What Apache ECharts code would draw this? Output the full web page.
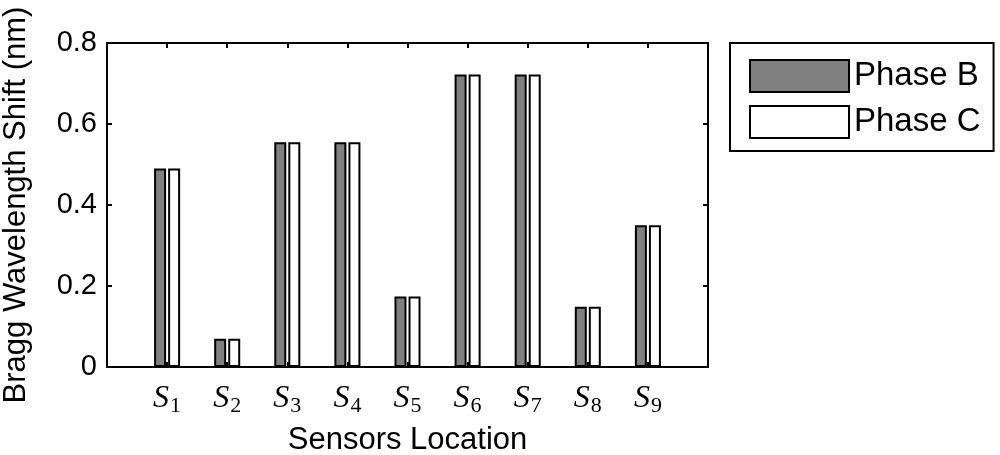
<!DOCTYPE html>
<html>
<head>
<meta charset="utf-8">
<script src="https://cdn.jsdelivr.net/npm/echarts@6/dist/echarts.min.js"></script>
<style>html,body{margin:0;padding:0;background:#fff}#c{width:1000px;height:455px}</style>
</head>
<body>
<div id="c"></div>
<script>
const sensors = ['1','2','3','4','5','6','7','8','9'];
const phaseB = [0.49, 0.07, 0.555, 0.555, 0.174, 0.722, 0.722, 0.149, 0.35];
const phaseC = [0.49, 0.07, 0.555, 0.555, 0.174, 0.722, 0.722, 0.149, 0.35];
const yTicks = [0, 0.2, 0.4, 0.6, 0.8];

const chart = echarts.init(document.getElementById('c'));
const font = 'Liberation Sans, Arial, sans-serif';
const toPts = arr => arr.map((v, i) => [i + 1, v]);
const tickStyle = {show: true, inside: true, length: 5, lineStyle: {color: '#000', width: 2}};
const lineStyle = {show: true, onZero: false, lineStyle: {color: '#000', width: 2}};
chart.setOption({
  animation: false,
  backgroundColor: '#fff',
  grid: {left: 107, right: 292, top: 43, bottom: 88, containLabel: false, outerBoundsMode: 'none'},
  legend: {
    left: 730, top: 43, orient: 'vertical',
    padding: [16, 13, 12, 19],
    borderColor: '#000', borderWidth: 2,
    itemWidth: 99, itemHeight: 32, itemGap: 12,
    icon: 'rect',
    textStyle: {fontFamily: font, fontSize: 33, color: '#000', padding: [0, 0, 0, 0]},
    data: ['Phase B', 'Phase C']
  },
  xAxis: [{
    type: 'value', min: 0, max: 10, interval: 1, position: 'bottom',
    name: 'Sensors Location', nameLocation: 'middle', nameGap: 58,
    nameTextStyle: {fontFamily: font, fontSize: 31, color: '#000'},
    axisLine: lineStyle,
    axisTick: tickStyle,
    splitLine: {show: false},
    axisLabel: {
      margin: 14,
      formatter: v => (v >= 1 && v <= 9) ? '{s|S}{sub|' + sensors[v - 1] + '}' : '',
      rich: {
        s: {fontFamily: 'Liberation Serif, serif', fontStyle: 'italic', fontSize: 32, color: '#000'},
        sub: {fontFamily: 'Liberation Serif, serif', fontSize: 22, color: '#000', padding: [14, 0, 0, 1]}
      }
    }
  }, {
    type: 'value', min: 0, max: 10, interval: 1, position: 'top',
    axisLine: lineStyle,
    axisTick: tickStyle,
    axisLabel: {show: false}, splitLine: {show: false}
  }],
  yAxis: [{
    type: 'value', min: 0, max: 0.8, interval: 0.2, position: 'left',
    name: 'Bragg Wavelength Shift (nm)', nameLocation: 'middle', nameGap: 75,
    nameTextStyle: {fontFamily: font, fontSize: 31, color: '#000'},
    axisLine: lineStyle,
    axisTick: tickStyle,
    splitLine: {show: false},
    axisLabel: {fontFamily: font, fontSize: 29, color: '#000', margin: 10,
      formatter: v => String(yTicks.find(t => Math.abs(t - v) < 1e-9) ?? v)}
  }, {
    type: 'value', min: 0, max: 0.8, interval: 0.2, position: 'right',
    axisLine: lineStyle,
    axisTick: tickStyle,
    axisLabel: {show: false}, splitLine: {show: false}
  }],
  series: [{
    name: 'Phase B', type: 'bar', xAxisIndex: 0, yAxisIndex: 0,
    data: toPts(phaseB), barWidth: 12, barGap: '17%',
    itemStyle: {color: '#808080', borderColor: '#000', borderWidth: 2}
  }, {
    name: 'Phase C', type: 'bar', xAxisIndex: 0, yAxisIndex: 0,
    data: toPts(phaseC), barWidth: 12, barGap: '17%',
    itemStyle: {color: '#fff', borderColor: '#000', borderWidth: 2}
  }, {
    name: 'frame', type: 'line', xAxisIndex: 1, yAxisIndex: 1,
    data: [], silent: true
  }]
});
</script>
</body>
</html>
